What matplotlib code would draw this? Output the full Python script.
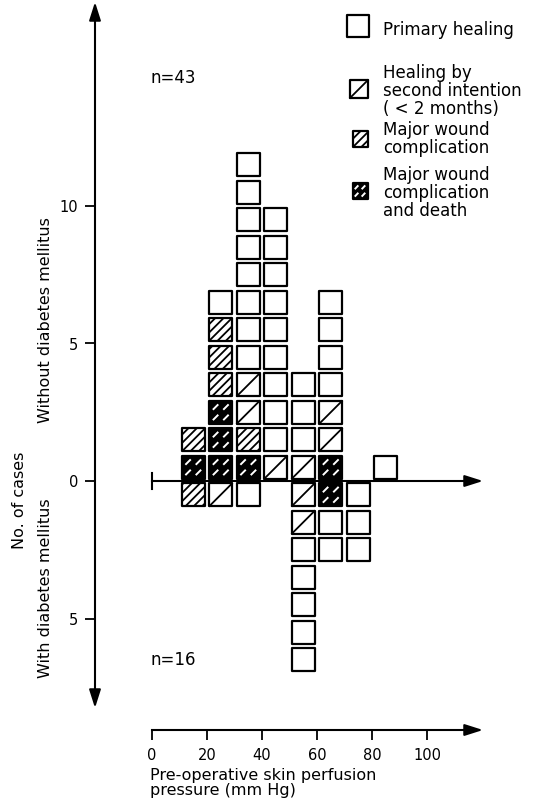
import matplotlib
matplotlib.use('Agg')
import matplotlib.pyplot as plt
from matplotlib.patches import Rectangle

# columns of the histogram (mm Hg, centre of each 10 mm Hg class)
pressure = [15, 25, 35, 45, 55, 65, 75, 85]

# outcome of every case, stacked outward from the zero line
# P = primary healing, S = second intention, M = major wound complication,
# X = major wound complication and death
without_dm = [
    ['X', 'M'],
    ['X', 'X', 'X', 'M', 'M', 'M', 'P'],
    ['X', 'M', 'S', 'S', 'P', 'P', 'P', 'P', 'P', 'P', 'P', 'P'],
    ['S', 'P', 'P', 'P', 'P', 'P', 'P', 'P', 'P', 'P'],
    ['S', 'P', 'P', 'P'],
    ['X', 'S', 'S', 'P', 'P', 'P', 'P'],
    [],
    ['P'],
]
with_dm = [
    ['M'],
    ['S'],
    ['P'],
    [],
    ['S', 'S', 'P', 'P', 'P', 'P', 'P'],
    ['X', 'P', 'P'],
    ['P', 'P', 'P'],
    [],
]

legend_codes = ['P', 'S', 'M', 'X']
legend_labels = ['Primary healing',
                 'Healing by\nsecond intention\n( < 2 months)',
                 'Major wound\ncomplication',
                 'Major wound\ncomplication\nand death']
xticks = [0, 20, 40, 60, 80, 100]
yticks = [10, 5, 0, -5]
ytick_labels = ['10', '5', '0', '5']
n_labels = ['n=43', 'n=16']

plt.rcParams['font.family'] = 'DejaVu Sans'
plt.rcParams['hatch.linewidth'] = 1.3

W, H = 537, 805


def px2x(px):
    return (px - 152) / 2.75


def py2y(py):
    return (481 - py) / 27.5


fig = plt.figure(figsize=(W / 100, H / 100), dpi=100)
ax = fig.add_axes([0, 0, 1, 1])
ax.set_xlim(px2x(0), px2x(W))
ax.set_ylim(py2y(H), py2y(0))
ax.patch.set_alpha(0)

BW, BH = 8.2, 0.82   # box size in data units


def draw_box(x, y, code, w=BW, h=BH):
    x0, y0 = x - w / 2, y - h / 2
    if code == 'P':
        ax.add_patch(Rectangle((x0, y0), w, h, fc='white', ec='black', lw=1.6, joinstyle='round'))
    elif code == 'S':
        ax.add_patch(Rectangle((x0, y0), w, h, fc='white', ec='black', lw=1.6, joinstyle='round'))
        ax.plot([x0, x0 + w], [y0, y0 + h], color='black', lw=1.3)
    elif code == 'M':
        ax.add_patch(Rectangle((x0, y0), w, h, fc='white', ec='black', lw=1.6,
                               hatch='////', joinstyle='round'))
    else:
        ax.add_patch(Rectangle((x0, y0), w, h, fc='black', ec='black', lw=1.6, joinstyle='round'))
        for fx in (0.27, 0.73):
            for fy in (0.27, 0.73):
                cx, cy = x0 + fx * w, y0 + fy * h
                ax.plot([cx - 0.12 * w, cx + 0.12 * w], [cy - 0.12 * h, cy + 0.12 * h],
                        color='white', lw=1.4, solid_capstyle='butt')


for x, col in zip(pressure, without_dm):
    for j, code in enumerate(col):
        draw_box(x, j + 0.5, code)
for x, col in zip(pressure, with_dm):
    for j, code in enumerate(col):
        draw_box(x, -(j + 0.5), code)

# axes
for s in ['top', 'right']:
    ax.spines[s].set_visible(False)
ax.spines['left'].set_position(('data', px2x(95)))
ax.spines['left'].set_bounds(py2y(698), py2y(12))
ax.spines['bottom'].set_position(('data', py2y(730)))
ax.spines['bottom'].set_bounds(0, px2x(470))
for s in ['left', 'bottom']:
    ax.spines[s].set_linewidth(1.5)

ax.set_yticks(yticks)
ax.set_yticklabels(ytick_labels)
ax.set_xticks(xticks)
ax.tick_params(axis='y', length=7, width=1.3, pad=5, labelsize=10.5)
ax.tick_params(axis='x', length=7, width=1.3, pad=6, labelsize=10.5)

arrow = dict(arrowstyle='-|>,head_length=1.1,head_width=0.35', color='black',
             lw=1.5, shrinkA=0, shrinkB=0, mutation_scale=10)
ax.annotate('', xy=(px2x(95), py2y(2)), xytext=(px2x(95), py2y(20)), arrowprops=arrow)
ax.annotate('', xy=(px2x(95), py2y(708)), xytext=(px2x(95), py2y(690)), arrowprops=arrow)
ax.annotate('', xy=(px2x(483), py2y(730)), xytext=(px2x(465), py2y(730)), arrowprops=arrow)

# zero line
ax.plot([0, px2x(470)], [0, 0], color='black', lw=1.5)
ax.plot([0, 0], [-0.3, 0.3], color='black', lw=1.5)
ax.annotate('', xy=(px2x(483), 0), xytext=(px2x(465), 0), arrowprops=arrow)

# legend
leg_boxes = [(358, 26, 22, 22), (359, 89, 18, 18), (360, 139, 15, 16), (360, 191, 15, 16)]
leg_text_y = [30, 91, 139, 193]
for code, lab, (bx, by, bw, bh), ty in zip(legend_codes, legend_labels, leg_boxes, leg_text_y):
    draw_box(px2x(bx), py2y(by), code, w=bw / 2.75, h=bh / 27.5)
    ax.text(383 / W, 1 - ty / H, lab, transform=ax.transAxes, fontsize=12,
            ha='left', va='center', linespacing=1.02)

ax.text(150 / W, 1 - 78 / H, n_labels[0], transform=ax.transAxes, fontsize=12, va='center')
ax.text(150 / W, 1 - 660 / H, n_labels[1], transform=ax.transAxes, fontsize=12, va='center')

# axis titles
ax.text(20 / W, 1 - 500 / H, 'No. of cases', transform=ax.transAxes, rotation=90,
        fontsize=11.5, ha='center', va='center')
ax.text(46 / W, 1 - 320 / H, 'Without diabetes mellitus', transform=ax.transAxes, rotation=90,
        fontsize=11.5, ha='center', va='center')
ax.text(46 / W, 1 - 588 / H, 'With diabetes mellitus', transform=ax.transAxes, rotation=90,
        fontsize=11.5, ha='center', va='center')
ax.text(150 / W, 1 - 783 / H, 'Pre-operative skin perfusion\npressure (mm Hg)',
        transform=ax.transAxes, fontsize=11.5, ha='left', va='center', linespacing=1.05)

fig.savefig('out.png', dpi=100)
